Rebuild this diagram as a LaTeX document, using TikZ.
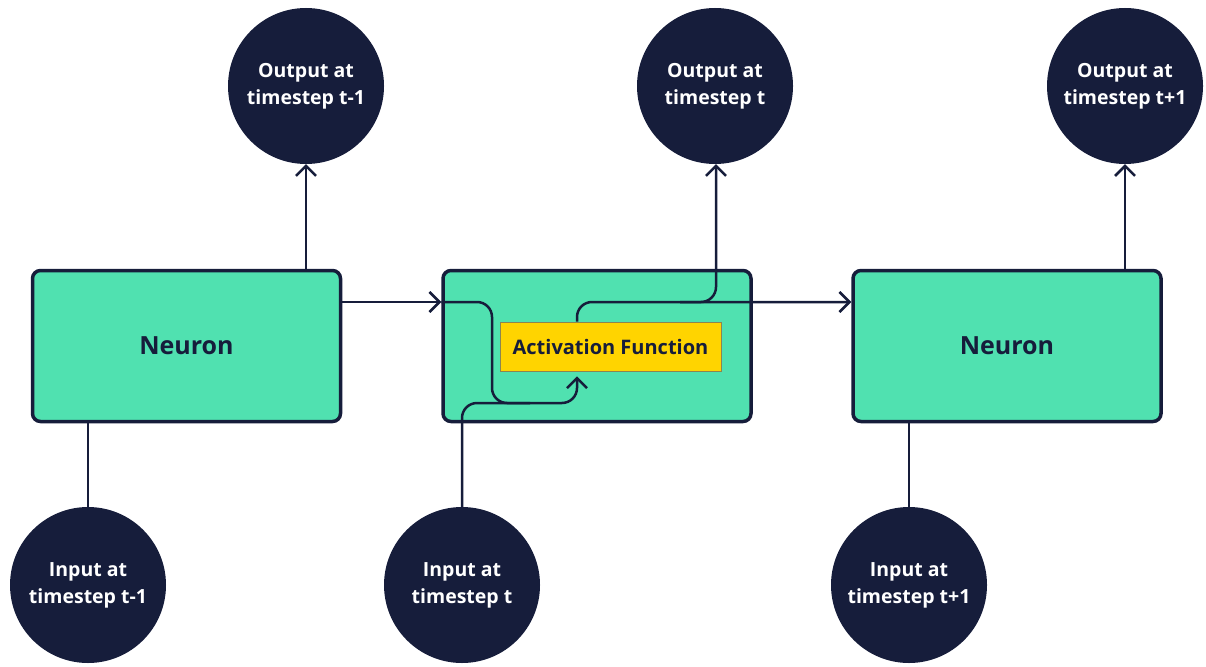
\documentclass[tikz,border=0pt]{standalone}
\usepackage{fontspec}
\setmainfont{Open Sans}
\usetikzlibrary{arrows.meta,calc}
\definecolor{navy}{HTML}{161D3B}
\definecolor{mint}{HTML}{50E1B0}
\definecolor{gold}{HTML}{FFD400}
\definecolor{goldedge}{HTML}{8C8550}
\tikzset{
  x=1pt, y=-1pt,
  neuron/.style={draw=navy, line width=3.5pt, fill=mint, rounded corners=8pt,
    minimum width=308pt, minimum height=151pt, inner sep=0pt,
    font=\fontsize{25}{30}\selectfont\bfseries, text=navy},
  bubble/.style={circle, fill=navy, minimum size=156pt, inner sep=0pt,
    align=center, text=white, font=\fontsize{19.5}{27}\selectfont\bfseries},
  actbox/.style={draw=goldedge, line width=0.8pt, fill=gold,
    minimum width=221pt, minimum height=49pt, inner sep=0pt,
    font=\fontsize{20}{24}\selectfont\bfseries, text=navy},
  conn/.style={draw=navy, line width=2.5pt, rounded corners=15pt},
  tip/.style={-{Straight Barb[length=10pt,width=20pt,line width=2.5pt]}},
}
\begin{document}
\begin{tikzpicture}
\useasboundingbox (0,0) rectangle (1206,666);

% recurrent cells
\node[neuron] (n1) at (186.5,346) {Neuron};
\node[neuron] (n2) at (597,346) {};
\node[neuron] (n3) at (1007,346) {Neuron};
\node[actbox] (af) at (610.5,346.5) {Activation Function};

% outputs
\node[bubble] (o1) at (306,86) {Output at\\timestep t-1};
\node[bubble] (o2) at (715,86) {Output at\\timestep t};
\node[bubble] (o3) at (1125,86) {Output at\\timestep t+1};

% inputs
\node[bubble] (i1) at (88,585) {Input at\\timestep t-1};
\node[bubble] (i2) at (462,585) {Input at\\timestep t};
\node[bubble] (i3) at (909,585) {Input at\\timestep t+1};

% named turning points inside the middle cell
\coordinate (hin) at (492,403);
\coordinate (xin) at (462,403);
\coordinate (xup) at (577,403);
\coordinate (hout) at (577,302);
\coordinate (yout) at (716,302);

% first cell
\draw[conn] (i1.north) -- (i1.north |- n1.south);
\draw[conn,tip] (o1.south |- n1.north) -- (o1.south);

% hidden state into the middle cell
\draw[conn,tip] (n1.east |- hout) -- (n2.west |- hout);
\draw[conn] (n2.west |- hout) -- (hin |- hout) -- (hin) -- ++(38,0);

% input into the activation
\draw[conn,tip,shorten >=5pt] (i2.north) -- (xin) -- (xup) -- (af.south -| xup);

% activation out to next cell and to the output
\draw[conn,tip] (af.north -| hout) -- (hout) -- (n3.west |- hout);
\draw[conn,tip] ([xshift=-36pt]yout) -- (yout) -- (o2.south -| yout);

% last cell
\draw[conn] (i3.north) -- (i3.north |- n3.south);
\draw[conn,tip] (o3.south |- n3.north) -- (o3.south);
\end{tikzpicture}
\end{document}
